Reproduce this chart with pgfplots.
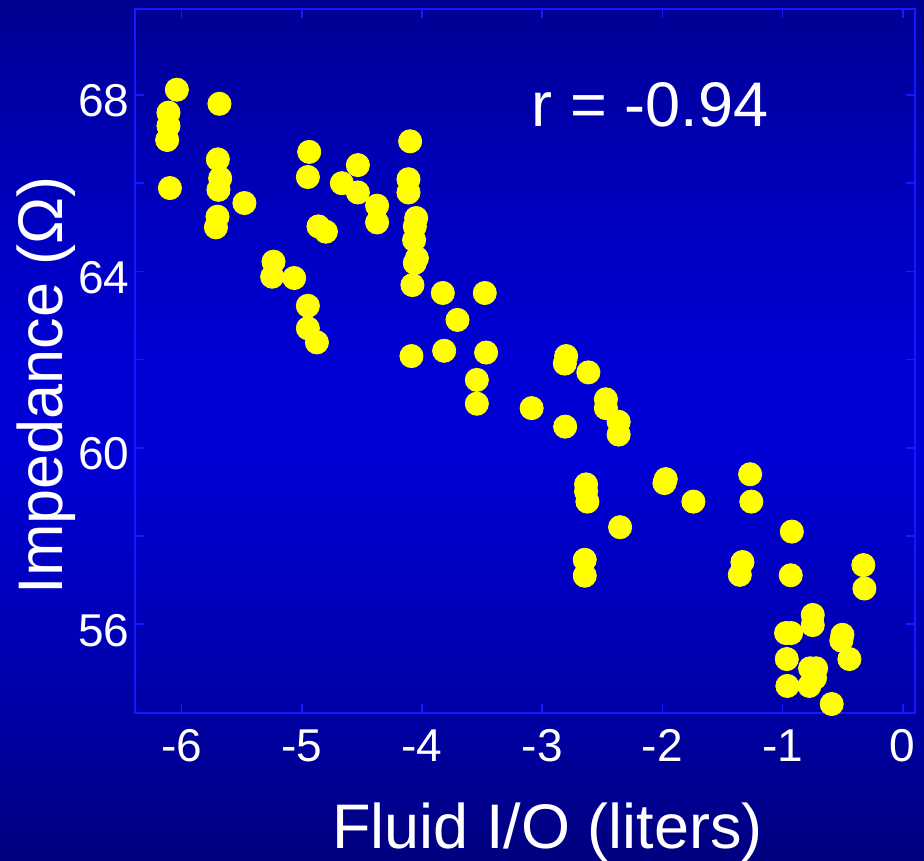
\documentclass[border=0pt]{standalone}
\usepackage{pgfplots}
\pgfplotsset{compat=1.18}
\usepackage{fontspec}
\setmainfont{Liberation Sans}
\definecolor{axblue}{RGB}{20,25,255}
\definecolor{dotyellow}{RGB}{255,255,0}
\pgfdeclareverticalshading{bgshade}{100bp}{rgb(0bp)=(0,0,0.50); rgb(25bp)=(0,0,0.50); rgb(37bp)=(0,0,0.70); rgb(48bp)=(0,0,0.83); rgb(54bp)=(0,0,0.83); rgb(65bp)=(0,0,0.72); rgb(75bp)=(0,0,0.57); rgb(100bp)=(0,0,0.57)}
\begin{document}
\begin{tikzpicture}
\useasboundingbox (0,0) rectangle (462pt,430pt);
\path[shading=bgshade] (0,0) rectangle (462pt,430pt);
\begin{axis}[
  at={(67.35pt,73.35pt)}, anchor=south west,
  scale only axis, width=390.15pt, height=352.15pt,
  xmin=-6.391, xmax=0.102, ymin=53.98, ymax=69.95,
  xtick={-6,-5,-4,-3,-2,-1,0},
  ytick={56,60,64,68},
  minor ytick={58,62,66},
  tick align=inside,
  major tick length=4.5pt, minor tick length=4.5pt,
  axis line style={draw=axblue, line width=1pt},
  every tick/.style={draw=axblue, line width=0.8pt},
  every minor tick/.style={draw=axblue, line width=0.8pt},
  /pgf/number format/assume math mode=true,
  tick label style={font=\fontsize{23}{26}\selectfont, text=white},
  xticklabel style={anchor=north, inner sep=0pt, yshift=-8pt},
  yticklabel style={anchor=east, inner sep=0pt, xshift=-2.4pt, yshift=-3pt},
  xlabel={Fluid I/O (liters)},
  ylabel={Impedance (Ω)},
  label style={font=\fontsize{31.5}{36}\selectfont, text=white},
  xlabel style={at={(axis description cs:0.529,-0.1917)}, anchor=base},
  ylabel style={at={(axis description cs:-0.0923,0.466)}, anchor=base, rotate=0},
  clip=false,
]
\addplot[only marks, mark=*, mark size=5.8pt, mark options={draw=dotyellow, fill=dotyellow}] coordinates {
(-6.040,68.12) (-6.110,67.60) (-6.110,67.30) (-6.121,66.98) (-6.098,65.89)
(-5.686,67.80) (-5.699,66.54) (-5.680,66.11) (-5.694,65.85) (-5.478,65.55)
(-5.702,65.24) (-5.715,65.00) (-4.939,66.71) (-4.950,66.14) (-4.667,66.00)
(-4.534,66.41) (-4.534,65.79) (-4.374,65.49) (-4.374,65.11) (-4.862,65.02)
(-4.800,64.90) (-5.236,64.22) (-5.247,63.88) (-5.064,63.85) (-4.950,63.22)
(-4.950,62.71) (-4.875,62.39) (-4.099,66.95) (-4.113,66.09) (-4.113,65.79)
(-4.049,65.21) (-4.060,65.02) (-4.066,64.71) (-4.043,64.30) (-4.060,64.19)
(-4.080,63.69) (-3.827,63.51) (-3.478,63.51) (-3.705,62.90) (-4.088,62.08)
(-3.816,62.20) (-3.467,62.16) (-3.544,61.54) (-3.544,61.00) (-3.088,60.90)
(-2.801,62.08) (-2.812,61.91) (-2.616,61.71) (-2.470,61.10) (-2.470,60.90)
(-2.364,60.59) (-2.364,60.30) (-2.809,60.48) (-2.635,59.17) (-2.635,59.01)
(-2.624,58.78) (-2.352,58.20) (-1.972,59.29) (-1.983,59.20) (-1.742,58.78)
(-1.270,59.40) (-1.260,58.78) (-0.923,58.10) (-2.646,57.46) (-2.646,57.10)
(-1.334,57.41) (-1.356,57.12) (-0.932,57.11) (-0.328,57.34) (-0.319,56.81)
(-0.749,56.21) (-0.749,55.98) (-0.971,55.80) (-0.929,55.80) (-0.502,55.76)
(-0.511,55.63) (-0.444,55.21) (-0.965,55.21) (-0.771,55.00) (-0.721,55.00)
(-0.730,54.78) (-0.777,54.60) (-0.960,54.60) (-0.591,54.19)
};
\node[anchor=base, text=white, font=\fontsize{31.5}{36}\selectfont] at (axis cs:-2.102,67.28) {r = -0.94};
\end{axis}
\end{tikzpicture}
\end{document}
